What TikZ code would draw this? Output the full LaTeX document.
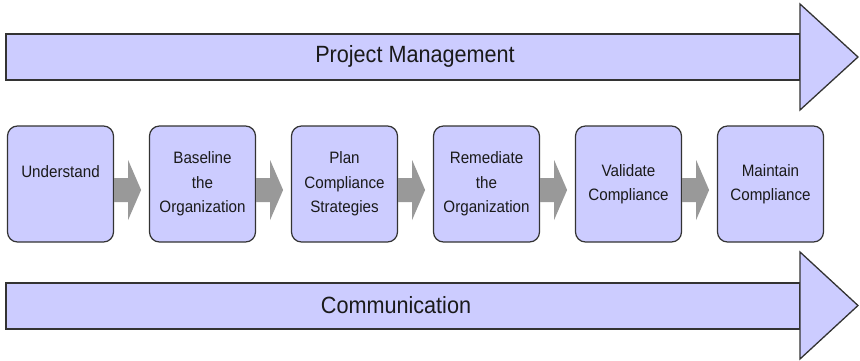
\documentclass[tikz,border=0pt]{standalone}
\usepackage{fontspec}
\setmainfont[FakeStretch=0.92]{Liberation Sans}
\usetikzlibrary{calc}
\definecolor{lavender}{HTML}{CCCCFF}
\definecolor{edge}{HTML}{333333}
\definecolor{flowgray}{HTML}{999999}
\definecolor{ink}{HTML}{1A1A1A}
\tikzset{
  band/.style={fill=lavender, draw=edge, line width=1.3pt, line join=miter},
  stagebox/.style={rectangle, rounded corners=10pt, fill=lavender, draw=edge,
    line width=1.2pt, minimum width=106pt, minimum height=116pt, inner sep=0pt,
    align=center, text=ink, font=\fontsize{16.5}{24.5}\selectfont},
  bandlabel/.style={text=ink, font=\fontsize{23.5}{26}\selectfont, inner sep=0pt},
  flowarrow/.style={fill=flowgray},
}
\begin{document}
\begin{tikzpicture}[x=1pt, y=-1pt]
  \useasboundingbox (0,0) rectangle (860,360);

  % top band: Project Management
  \draw[band] (6,34) rectangle (800,80);
  \draw[band] (800,4) -- (858,57) -- (800,110) -- cycle;
  \node[bandlabel] (pm) at (415,56) {Project Management};

  % bottom band: Communication
  \draw[band] (6,283) rectangle (800,329);
  \draw[band] (800,252) -- (858,305.5) -- (800,359) -- cycle;
  \node[bandlabel] (comm) at (396,305) {Communication};

  % stages
  \node[stagebox] (s1) at (60.5,184)  {Understand\\~};
  \node[stagebox] (s2) at (202.5,184) {Baseline\\the\\Organization};
  \node[stagebox] (s3) at (344.5,184) {Plan\\Compliance\\Strategies};
  \node[stagebox] (s4) at (486.5,184) {Remediate\\the\\Organization};
  \node[stagebox] (s5) at (628.5,184) {Validate\\Compliance};
  \node[stagebox] (s6) at (770.5,184) {Maintain\\Compliance};

  % flow arrows from each stage to the next
  \foreach \a in {s1,s2,s3,s4,s5} {
    \fill[flowarrow] ($(\a.east)+(0,-6)$) -- ++(14,0) -- ++(0,-18)
      -- ++(13,30) -- ++(-13,30) -- ++(0,-18) -- ++(-14,0) -- cycle;
  }
\end{tikzpicture}
\end{document}
